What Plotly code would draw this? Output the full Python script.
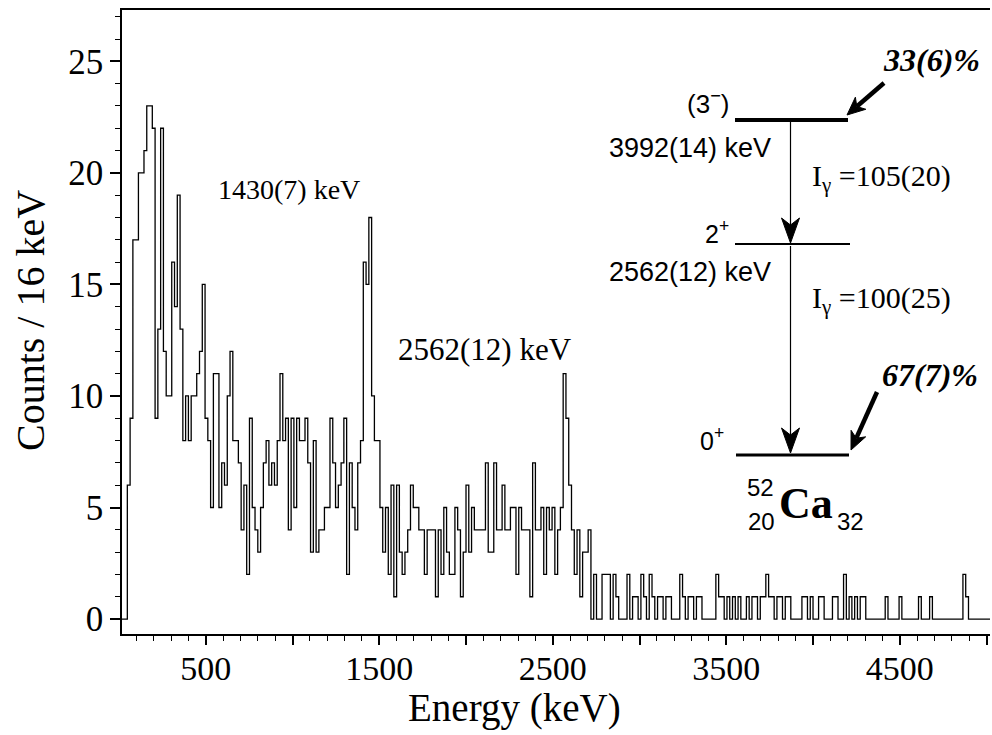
import numpy as np
import plotly.graph_objects as go

# ---------------------------------------------------------------------------
# Gamma-ray spectrum: counts per 16 keV bin, first bin starts at 48 keV
# ---------------------------------------------------------------------------
BIN_KEV = 16
FIRST_EDGE_KEV = 48

counts_48_848 = [
    6, 9, 17, 17, 20, 20, 21, 23, 23, 22,
    9, 13, 22, 12, 10, 10, 16, 14, 19, 13,
    8, 10, 8, 10, 10, 11, 12, 15, 9, 8,
    5, 11, 11, 5, 7, 6, 10, 12, 8, 8,
    7, 4, 6, 2, 9, 5, 4, 3, 5, 7,
]
counts_848_1648 = [
    8, 6, 7, 6, 8, 11, 8, 9, 4, 9,
    5, 9, 8, 8, 9, 7, 3, 8, 3, 4,
    4, 5, 5, 9, 7, 5, 6, 7, 9, 2,
    7, 5, 4, 7, 8, 16, 15, 18, 10, 8,
    8, 5, 3, 5, 2, 6, 1, 6, 3, 2,
]
counts_1648_2448 = [
    3, 4, 6, 5, 5, 4, 4, 2, 4, 4,
    4, 1, 4, 2, 5, 3, 2, 2, 5, 4,
    1, 3, 6, 3, 5, 4, 4, 4, 4, 7,
    3, 3, 7, 4, 4, 6, 4, 4, 5, 5,
    2, 5, 4, 4, 4, 1, 7, 4, 4, 5,
]
counts_2448_3248 = [
    2, 5, 4, 5, 2, 4, 5, 11, 9, 6,
    4, 2, 4, 1, 3, 3, 4, 0, 2, 0,
    0, 2, 2, 2, 0, 2, 1, 0, 0, 0,
    2, 0, 1, 1, 0, 2, 1, 0, 2, 1,
    0, 1, 1, 0, 1, 1, 0, 0, 0, 2,
]
counts_3248_4048 = [
    1, 0, 1, 1, 0, 1, 1, 0, 0, 0,
    0, 0, 2, 1, 1, 0, 1, 0, 1, 0,
    1, 0, 0, 1, 0, 1, 1, 0, 1, 1,
    2, 1, 1, 0, 1, 1, 0, 1, 1, 0,
    0, 0, 0, 1, 1, 0, 1, 0, 0, 1,
]
counts_4048_5040 = [
    1, 0, 0, 0, 1, 1, 0, 0, 2, 0,
    1, 0, 1, 0, 1, 1, 0, 0, 0, 0,
    0, 0, 0, 1, 0, 0, 0, 0, 1, 0,
    0, 0, 0, 0, 0, 1, 0, 0, 0, 1,
    0, 0, 0, 0, 0, 0, 0, 0, 0, 0,
    0, 2, 1, 0, 0, 0, 0, 0, 0, 0,
    0, 0,
]

# Axis ticks
x_tick_vals = [500, 1000, 1500, 2000, 2500, 3000, 3500, 4000, 4500, 5000]
x_tick_text = ["500", "", "1500", "", "2500", "", "3500", "", "4500", ""]
y_tick_vals = [0, 5, 10, 15, 20, 25]

# Peak labels
peak_labels = ["1430(7) keV", "2562(12) keV"]

X_RANGE = [17.3, 5020]
Y_RANGE = [-0.67, 27.3]

SERIF = "Liberation Serif"
SANS = "Liberation Sans"

counts = np.array(counts_48_848 + counts_848_1648 + counts_1648_2448
                  + counts_2448_3248 + counts_3248_4048 + counts_4048_5040)
edges = FIRST_EDGE_KEV + BIN_KEV * np.arange(len(counts) + 1)

# Step outline: baseline from the axis, then one level per bin
xs = np.concatenate([[X_RANGE[0]], edges[:-1], [edges[-1]]])
ys = np.concatenate([[0], counts, [0]])

fig = go.Figure()
fig.add_trace(go.Scatter(
    x=xs, y=ys, mode="lines", line_shape="hv",
    line=dict(color="black", width=1.3), hoverinfo="skip",
))

# ---------------------------------------------------------------------------
# Layout geometry (pixels) for the decay-scheme drawing
# ---------------------------------------------------------------------------
W, H = 992, 735
L, R, T, B = 122, 990, 10, 634


def px(x):
    return (x - L) / (R - L)


def py(y):
    return (B - y) / (B - T)


shapes = []
annotations = []


def text(s, x, y, size, family=SERIF, bold=False, italic=False, xanchor="center"):
    if bold:
        s = f"<b>{s}</b>"
    if italic:
        s = f"<i>{s}</i>"
    annotations.append(dict(
        text=s, x=px(x), y=py(y), xref="paper", yref="paper",
        xanchor=xanchor, yanchor="middle", showarrow=False,
        font=dict(family=family, size=size, color="black"),
    ))


def hline(x0, x1, y, width):
    shapes.append(dict(type="line", xref="paper", yref="paper",
                       x0=px(x0), x1=px(x1), y0=py(y), y1=py(y),
                       line=dict(color="black", width=width)))


def arrow(x0, y0, x1, y1, width, head_len, head_w):
    d = np.array([x1 - x0, y1 - y0], dtype=float)
    u = d / np.hypot(*d)
    n = np.array([-u[1], u[0]])
    tip = np.array([x1, y1], dtype=float)
    base = tip - u * head_len
    notch = tip - u * head_len * 0.72
    p1 = base + n * head_w / 2
    p2 = base - n * head_w / 2
    shapes.append(dict(type="line", xref="paper", yref="paper",
                       x0=px(x0), y0=py(y0), x1=px(notch[0]), y1=py(notch[1]),
                       line=dict(color="black", width=width)))
    pts = [tip, p1, notch, p2]
    path = "M " + " L ".join(f"{px(p[0])},{py(p[1])}" for p in pts) + " Z"
    shapes.append(dict(type="path", xref="paper", yref="paper", path=path,
                       fillcolor="black", line=dict(color="black", width=1)))


# Level lines
hline(735, 848, 120, 4)
hline(735, 850, 244, 2)
hline(736, 849, 455, 3)

# Transitions
arrow(790.5, 122, 790.5, 243, 1.2, 25, 18)
arrow(790.5, 246, 790.5, 453, 1.2, 25, 18)

# Feeding arrows
arrow(884, 83, 847, 115, 4.5, 18, 16)
arrow(877, 392, 851, 450, 4.5, 18, 16)

# Level labels
text("(3<sup>\u2212</sup>)", 708, 102, 26, SANS)
text("3992(14) keV", 690, 148, 27, SANS)
text("2<sup>+</sup>", 717, 232, 25, SANS)
text("2562(12) keV", 690, 272, 27, SANS)
text("0<sup>+</sup>", 712, 439, 25, SANS)

text("I<sub>\u03b3</sub> =105(20)", 881, 178, 30)
text("I<sub>\u03b3</sub> =100(25)", 881, 300, 30)

text("33(6)%", 931, 60, 32, bold=True, italic=True)
text("67(7)%", 930, 375, 32, bold=True, italic=True)

# Nuclide symbol
text("52", 760, 488, 24, SANS)
text("20", 761, 521, 24, SANS)
text("Ca", 806, 503, 44, bold=True)
text("32", 850, 521, 24, SANS)

# Peak labels
text(peak_labels[0], 289, 190, 28)
text(peak_labels[1], 485, 349, 31)

# Axis titles
text("Energy (keV)", 514, 708, 39)
annotations.append(dict(
    text="Counts / 16 keV", x=px(30), y=py(321), xref="paper", yref="paper",
    xanchor="center", yanchor="middle", showarrow=False, textangle=-90,
    font=dict(family=SERIF, size=40, color="black"),
))

fig.update_layout(
    width=W, height=H, autosize=False,
    margin=dict(l=L, r=W - R, t=T, b=H - B),
    plot_bgcolor="white", paper_bgcolor="white",
    showlegend=False,
    shapes=shapes, annotations=annotations,
    xaxis=dict(
        range=X_RANGE, showgrid=False, zeroline=False,
        showline=True, linecolor="black", linewidth=1.5, mirror=True,
        ticks="outside", ticklen=9, tickwidth=1.5, tickcolor="black",
        tickmode="array", tickvals=x_tick_vals, ticktext=x_tick_text,
        ticklabelstandoff=-6,
        tickfont=dict(family=SERIF, size=34, color="black"),
        minor=dict(ticks="outside", tickmode="linear", tick0=0, dtick=100,
                   ticklen=5, tickwidth=1.2, tickcolor="black", showgrid=False),
    ),
    yaxis=dict(
        range=Y_RANGE, showgrid=False, zeroline=False,
        showline=True, linecolor="black", linewidth=1.5,
        ticks="outside", ticklen=10, tickwidth=1.5, tickcolor="black",
        tickmode="array", tickvals=y_tick_vals,
        tickfont=dict(family=SERIF, size=35, color="black"),
        minor=dict(ticks="outside", tickmode="linear", tick0=0, dtick=1,
                   ticklen=5, tickwidth=1.2, tickcolor="black", showgrid=False),
    ),
)

fig.write_html("out.html")
